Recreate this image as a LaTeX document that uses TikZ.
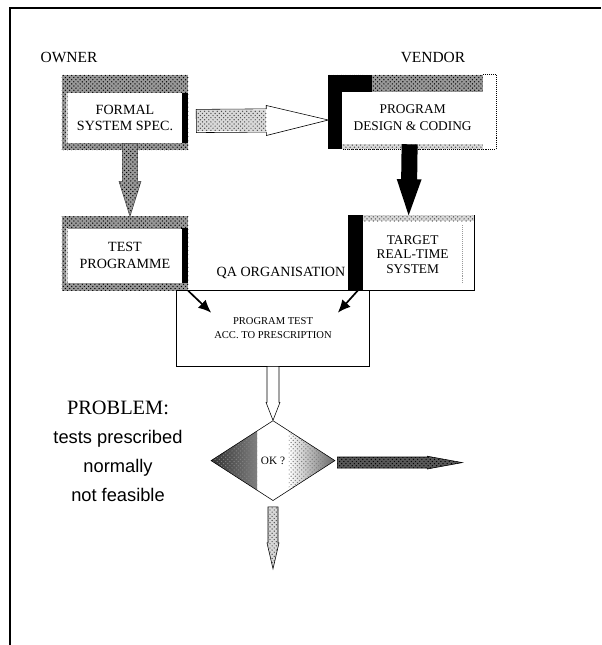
\documentclass[tikz,border=0pt]{standalone}
\usepackage{fontspec}
\setmainfont{Liberation Serif}
\newfontfamily\problemsans{Liberation Sans}
\usetikzlibrary{
    arrows.meta,
    positioning,
    shapes.geometric,
    patterns,
    backgrounds,
    calc
}

% fat block arrow: style, from, to, shaft half width, head half width, head length
\newcommand{\fatarrow}[6]{%
  \coordinate (fa-h) at ($(#3)!#6!(#2)$);
  \path[#1] ($(#2)!#4!90:(#3)$) -- ($(fa-h)!#4!90:(#3)$) -- ($(fa-h)!#5!90:(#3)$) -- (#3)
    -- ($(fa-h)!#5!-90:(#3)$) -- ($(fa-h)!#4!-90:(#3)$) -- ($(#2)!#4!-90:(#3)$) -- cycle;
}

\begin{document}
\begin{tikzpicture}[
x=0.025cm, y=-0.025cm,
node distance=1.5cm,
inbox/.style={
fill=white,
inner sep=0pt,
align=center,
font=\fontsize{10}{12}\selectfont
},
side/.style={
font=\fontsize{11}{13}\selectfont
},
dotfill/.style={
fill=black!40,
postaction={pattern=crosshatch dots, pattern color=black}
},
lightdots/.style={
fill=black!15,
postaction={pattern=crosshatch dots, pattern color=black!70}
}
]

\useasboundingbox (0,0) rectangle (601,645);
\draw[line width=1pt] (10,645) -- (10,8) -- (601,8);

\node[side] (owner) at (69,57) {OWNER};
\node[side] (vendor) at (433,57) {VENDOR};

% owner boxes
\node[inbox, minimum width=2.85cm, minimum height=1.25cm] (spec) at (125,118)
{FORMAL\\SYSTEM SPEC.};

\node[inbox, minimum width=2.85cm, minimum height=1.35cm,
below=2.125cm of spec] (test)
{TEST\\PROGRAMME};

% vendor boxes
\node[inbox, minimum width=3.5cm, minimum height=1.3cm,
font=\fontsize{9.5}{12}\selectfont,
right=4cm of spec] (design)
{PROGRAM\\DESIGN \& CODING};

\node[inbox, minimum width=2.45cm, minimum height=1.65cm,
font=\fontsize{9.5}{10}\selectfont,
below=1.925cm of design] (target)
{TARGET\\REAL-TIME\\SYSTEM};

% frames round the boxes
\begin{scope}[on background layer]
\fill[dotfill] ($(spec.north west)+(-6,-18)$) rectangle ($(spec.south east)+(6,7)$);
\fill ($(spec.north east)+(-1,0)$) rectangle ($(spec.south east)+(6,0)$);
\fill[lightdots] ($(spec.north west)+(-2,0)$) rectangle ($(spec.south west)$);

\fill[dotfill] ($(test.north west)+(-6,-12)$) rectangle ($(test.south east)+(6,8)$);
\fill ($(test.north east)+(-1,0)$) rectangle ($(test.south east)+(6,0)$);
\fill[lightdots] ($(test.north west)+(-2,0)$) rectangle ($(test.south west)$);

\fill[dotfill] ($(design.north west)+(-14,-17)$) rectangle ($(design.north east)+(0,0)$);
\fill[lightdots] ($(design.south west)$) rectangle ($(design.south east)+(0,5)$);
\fill ($(design.north west)+(-14,-17)$) rectangle ($(design.south west)+(0,5)$);
\fill ($(design.north west)+(-14,-17)$) rectangle ($(design.north west)+(30,0)$);
\draw[densely dotted] ($(design.north east)+(0,-17)$) -- ($(design.north east)+(13,-17)$)
  -- ($(design.south east)+(13,5)$) -- ($(design.south west)+(0,5)$);

\draw ($(target.north west)+(-15,-6)$) rectangle ($(target.south east)+(12,2)$);
\fill[lightdots] ($(target.north west)+(0,-6)$) rectangle ($(target.north east)+(12,0)$);
\fill ($(target.north west)+(-15,-6)$) rectangle ($(target.south west)+(0,2)$);
\end{scope}
\draw[black!40, densely dotted] ($(target.north east)+(0,4)$) -- ($(target.south east)+(0,-4)$);

% QA side
\node[font=\fontsize{10}{12}\selectfont] (qa) at (281,273) {QA ORGANISATION};

\node[draw, minimum width=4.825cm, minimum height=1.9cm, align=center,
font=\fontsize{7.5}{9.5}\selectfont] (progtest) at (273,328)
{PROGRAM TEST\\ACC. TO PRESCRIPTION};

\node[diamond, draw, fill=white, minimum width=3.1cm, minimum height=2cm,
inner sep=0pt, font=\fontsize{8}{10}\selectfont,
below=1.35cm of progtest,
path picture={
\shade[left color=black!80, right color=white]
 (path picture bounding box.south west) rectangle ($(path picture bounding box.north west)+(1.15cm,0)$);
\shade[left color=white, right color=black!60]
 ($(path picture bounding box.north east)+(-1.15cm,0)$) rectangle (path picture bounding box.south east);
\fill[pattern=crosshatch dots, pattern color=black!50]
 (path picture bounding box.south west) rectangle ($(path picture bounding box.north west)+(1.15cm,0)$);
\fill[pattern=crosshatch dots, pattern color=black!50]
 ($(path picture bounding box.north east)+(-1.15cm,0)$) rectangle (path picture bounding box.south east);
}] (decide) {OK ?};

\node[align=center, font=\problemsans\fontsize{13}{20.6}\selectfont] (problem) at (118,451)
{{\rmfamily\fontsize{14.5}{20.6}\selectfont PROBLEM:}\\tests prescribed\\normally\\not feasible};

% connectors
\coordinate (a1s) at ($(spec.east)+(14,3)$);
\coordinate (a1e) at ($(design.west)+(-14,2)$);
\fatarrow{fill=white, draw}{a1s}{a1e}{0.29cm}{0.375cm}{1.55cm}
\fill[lightdots] ($(a1s)+(0.5,-11)$) rectangle ($(a1e)+(-62,11)$);

\coordinate (a2s) at ($(spec.south)+(5,0)$);
\coordinate (a2e) at ($(test.north)+(5,-12)$);
\fatarrow{dotfill, draw=black!70}{a2s}{a2e}{0.19cm}{0.275cm}{0.875cm}

\coordinate (a3s) at ($(design.south)+(-3,0)$);
\coordinate (a3e) at ($(target.north)+(-4,-6)$);
\fatarrow{fill=black}{a3s}{a3e}{0.2cm}{0.31cm}{0.9cm}

\draw[-{Latex[length=3.2mm, width=2.8mm]}, line width=1.2pt]
($(test.south east)+(6,8)$) -- ($(progtest.north west)+(35,23)$);
\draw[-{Latex[length=3.2mm, width=2.8mm]}, line width=1.2pt]
($(target.south west)+(-5,2)$) -- ($(progtest.north east)+(-32,23)$);

\fatarrow{fill=white, draw}{progtest.south}{decide.north}{0.15cm}{0.175cm}{0.45cm}

\coordinate (nogo) at ($(decide.east)+(127,2)$);
\coordinate (a6s) at ($(decide.east)+(2,2)$);
\fatarrow{fill=black!65, postaction={pattern=crosshatch dots, pattern color=black}, draw}{a6s}{nogo}{0.14cm}{0.16cm}{0.875cm}

\coordinate (goon) at ($(decide.south)+(0,68)$);
\coordinate (a7s) at ($(decide.south)+(0,6)$);
\fatarrow{lightdots, draw}{a7s}{goon}{0.125cm}{0.15cm}{0.65cm}

\end{tikzpicture}
\end{document}
